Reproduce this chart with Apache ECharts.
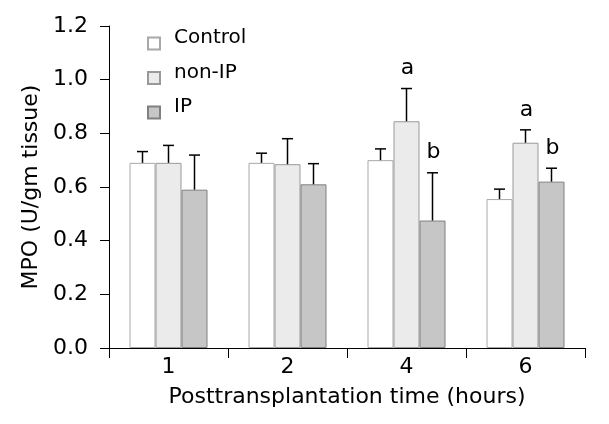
<!DOCTYPE html>
<html><head><meta charset="utf-8">
<script src="https://cdn.jsdelivr.net/npm/echarts@6/dist/echarts.min.js"></script>
<style>html,body{margin:0;padding:0;background:#fff}#c{width:609px;height:424px}</style>
</head><body><div id="c"></div>
<script>
const categories = ['1', '2', '4', '6'];
const seriesNames = ['Control', 'non-IP', 'IP'];
const controlValues = [0.69, 0.69, 0.70, 0.555];
const nonIPValues = [0.69, 0.685, 0.845, 0.765];
const ipValues = [0.59, 0.61, 0.475, 0.62];
const controlErrors = [0.042, 0.036, 0.042, 0.037];
const nonIPErrors = [0.065, 0.095, 0.122, 0.048];
const ipErrors = [0.129, 0.077, 0.178, 0.05];
const controlMarks = ['', '', '', ''];
const nonIPMarks = ['', '', 'a', 'a'];
const ipMarks = ['', '', 'b', 'b'];
const yMin = 0, yMax = 1.2, yStep = 0.2;

const FONT = 'DejaVu Sans';
const BAR_W = 26;
const fills = ['#ffffff', '#ebebeb', '#c6c6c6'];
const borders = ['#a8a8a8', '#999999', '#808080'];
const valueSets = [controlValues, nonIPValues, ipValues];
const errorSets = [controlErrors, nonIPErrors, ipErrors];
const markSets = [controlMarks, nonIPMarks, ipMarks];

const chart = echarts.init(document.getElementById('c'), null, {renderer: 'canvas'});

const barSeries = seriesNames.map((name, i) => ({
  name: name,
  type: 'bar',
  data: valueSets[i],
  barWidth: BAR_W,
  barGap: '0%',
  itemStyle: {color: fills[i], borderColor: borders[i], borderWidth: 1},
  emphasis: {disabled: true},
  z: 2
}));

const errSeries = seriesNames.map((name, i) => ({
  name: 'err-' + name,
  type: 'custom',
  z: 5,
  silent: true,
  data: valueSets[i].map((v, k) => [k, v, errorSets[i][k]]),
  renderItem: function (params, api) {
    const k = api.value(0), v = api.value(1), e = api.value(2);
    const x = api.coord([k, 0])[0] + (i - 1) * BAR_W;
    const yTop = api.coord([k, v])[1];
    const yErr = api.coord([k, v + e])[1];
    const children = [
      {type: 'line', shape: {x1: x, y1: yTop, x2: x, y2: yErr}, style: {stroke: '#000', lineWidth: 1.5}},
      {type: 'line', shape: {x1: x - 5.5, y1: yErr, x2: x + 5.5, y2: yErr}, style: {stroke: '#000', lineWidth: 1.5}}
    ];
    const mark = markSets[i][params.dataIndex];
    if (mark) {
      children.push({type: 'text', style: {text: mark, x: x + 1, y: yErr - 9, align: 'center', verticalAlign: 'bottom',
        font: '22px "' + FONT + '"', fill: '#000'}});
    }
    return {type: 'group', children: children};
  }
}));

chart.setOption({
  animation: false,
  backgroundColor: '#fff',
  textStyle: {fontFamily: FONT, color: '#000'},
  grid: {left: 109, right: 24, top: 26, bottom: 76, containLabel: false},
  legend: {
    data: seriesNames,
    orient: 'vertical',
    left: 147, top: 28, padding: 0,
    itemWidth: 12, itemHeight: 12, itemGap: 12,
    icon: 'rect',
    selectedMode: false,
    formatter: '{t|{name}}',
    textStyle: {fontFamily: FONT, fontSize: 20, color: '#000',
      rich: {t: {fontFamily: FONT, fontSize: 20, color: '#000', padding: [0, 0, 11, 9]}}}
  },
  xAxis: {
    type: 'category',
    data: categories,
    boundaryGap: true,
    name: 'Posttransplantation time (hours)',
    nameLocation: 'middle',
    nameGap: 38,
    nameTextStyle: {fontFamily: FONT, fontSize: 22, color: '#000'},
    axisLine: {lineStyle: {color: '#000', width: 1}},
    axisTick: {show: true, alignWithLabel: false, length: 10, lineStyle: {color: '#000'}},
    axisLabel: {fontFamily: FONT, fontSize: 22, color: '#000', margin: 8},
    splitLine: {show: false}
  },
  yAxis: {
    type: 'value',
    min: yMin, max: yMax, interval: yStep,
    name: 'MPO (U/gm tissue)',
    nameLocation: 'middle',
    nameGap: 66,
    nameRotate: 90,
    nameTextStyle: {fontFamily: FONT, fontSize: 22, color: '#000'},
    axisLine: {show: true, lineStyle: {color: '#000', width: 1}},
    axisTick: {show: true, length: 9, lineStyle: {color: '#000'}},
    axisLabel: {fontFamily: FONT, fontSize: 22, color: '#000', margin: 21, formatter: v => v.toFixed(1)},
    splitLine: {show: false}
  },
  series: barSeries.concat(errSeries)
});
</script>
</body></html>
